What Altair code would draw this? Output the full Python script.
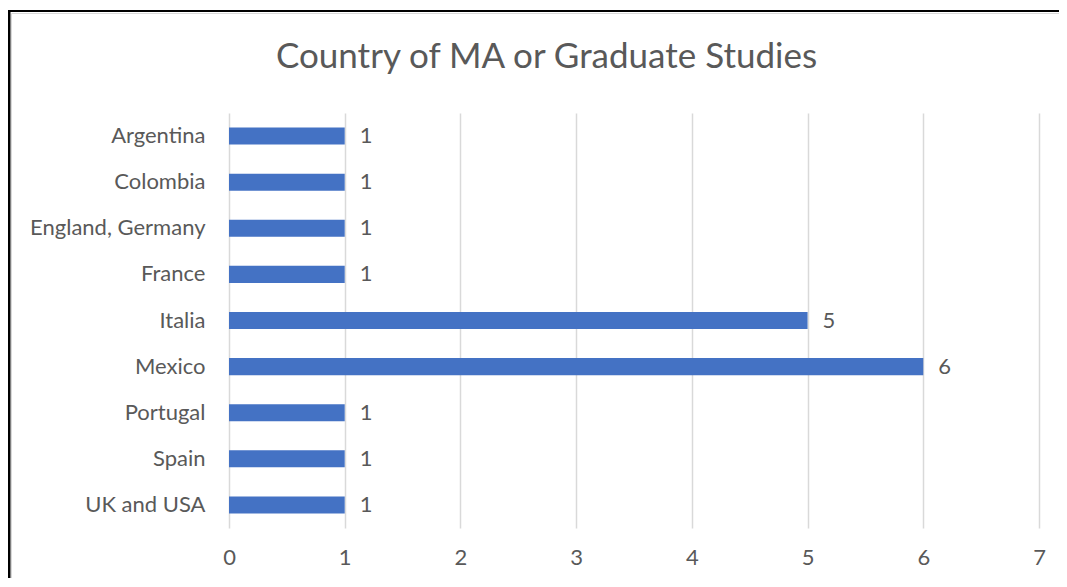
import altair as alt
import pandas as pd

countries = ["Argentina", "Colombia", "England, Germany", "France", "Italia",
             "Mexico", "Portugal", "Spain", "UK and USA"]
counts = [1, 1, 1, 1, 5, 6, 1, 1, 1]
x_ticks = [0, 1, 2, 3, 4, 5, 6, 7]
title_text = "Country of MA or Graduate Studies"

df = pd.DataFrame({"country": countries, "count": counts})

FONT = "Lato"
GRAY = "#595959"
FS = 22

base = alt.Chart(df).encode(
    y=alt.Y("country:N", sort=None, title=None,
            scale=alt.Scale(paddingInner=0.63),
            axis=alt.Axis(labelFont=FONT, labelFontSize=FS, labelColor=GRAY,
                          labelFontWeight="normal",
                          labelPadding=24, ticks=False, domain=False, grid=False)),
)

bars = base.mark_bar(color="#4472C4").encode(
    x=alt.X("count:Q", title=None,
            scale=alt.Scale(domain=[0, 7], nice=False),
            axis=alt.Axis(values=x_ticks, format="d", labelFont=FONT,
                          labelFontSize=FS, labelFontWeight="normal",
                          labelFlush=False,
                          labelColor=GRAY, labelPadding=19, ticks=False,
                          domain=False, gridColor="#d9d9d9", gridWidth=1.5))
)

labels = base.mark_text(align="left", baseline="middle", dx=15, font=FONT,
                        fontSize=FS, fontWeight="normal", color=GRAY).encode(
    x="count:Q", text="count:Q"
)

one = pd.DataFrame({"t": [title_text]})
title = alt.Chart(one).mark_text(font=FONT, fontSize=35, fontWeight="normal",
                                 color=GRAY, align="center",
                                 baseline="alphabetic").encode(
    x=alt.value(317.5), y=alt.value(-45), text="t:N")
border_v = alt.Chart(one).mark_rule(color="black", strokeWidth=3).encode(
    x=alt.value(-220), y=alt.value(-103), y2=alt.value(480))
border_h = alt.Chart(one).mark_rule(color="black", strokeWidth=2).encode(
    x=alt.value(-221), x2=alt.value(840), y=alt.value(-102))
inner_v = alt.Chart(one).mark_rule(color="#d9d9d9", strokeWidth=1).encode(
    x=alt.value(-217.5), y=alt.value(-99.5), y2=alt.value(480))
inner_h = alt.Chart(one).mark_rule(color="#d9d9d9", strokeWidth=1).encode(
    x=alt.value(-217.5), x2=alt.value(840), y=alt.value(-99.5))

chart = alt.layer(bars, labels, title, inner_v, inner_h, border_v, border_h).properties(
    width=810, height=415,
    autosize=alt.AutoSizeParams(type="none"),
    padding={"left": 221, "top": 105, "right": 20, "bottom": 50},
).configure_view(stroke=None)

chart.save("out.html", embed_options={"renderer": "svg", "actions": False})
